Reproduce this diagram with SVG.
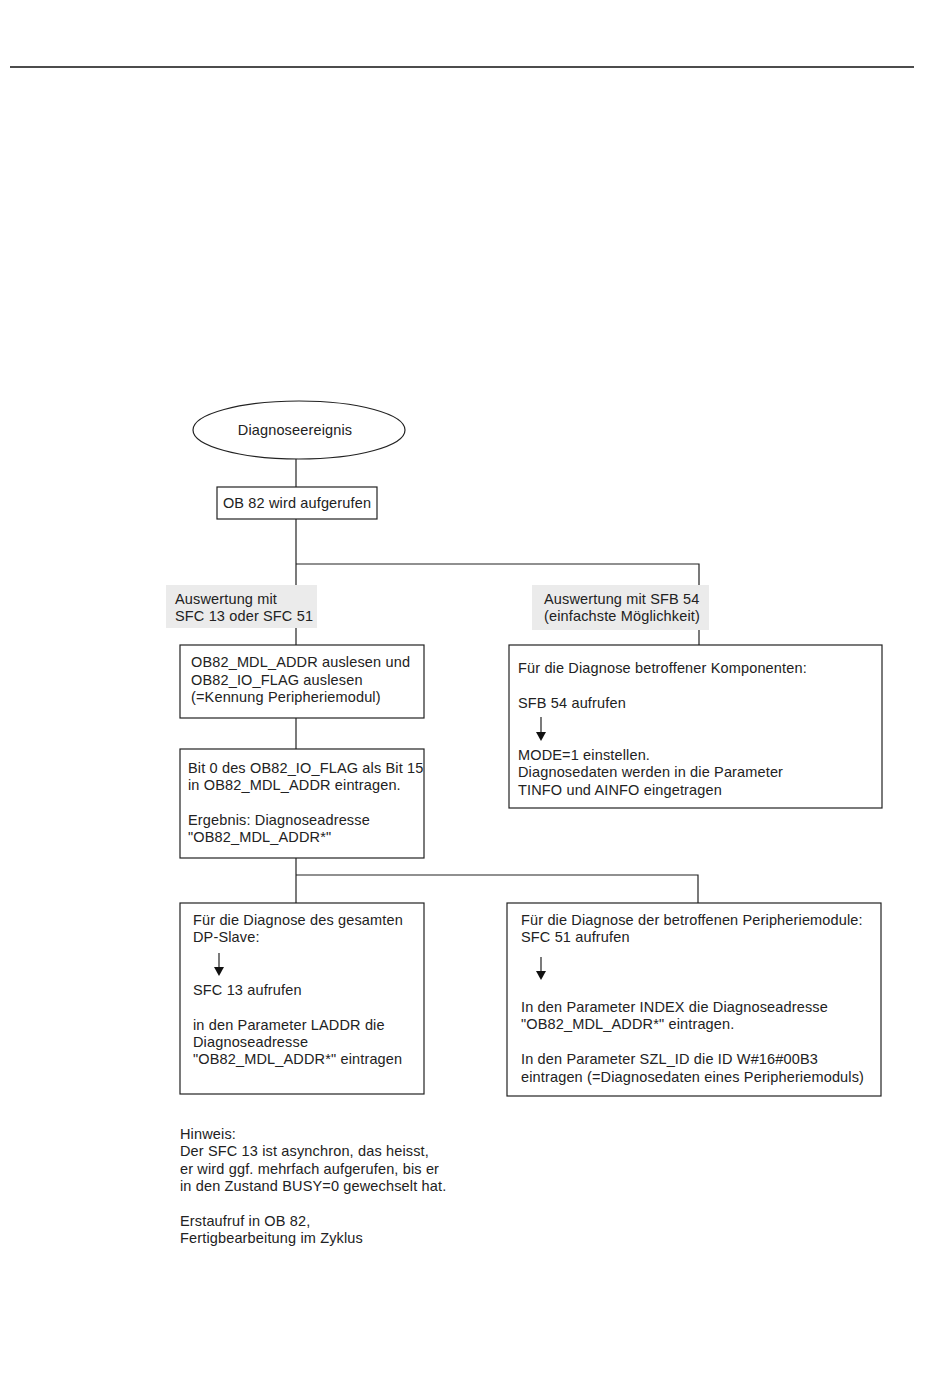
<svg xmlns="http://www.w3.org/2000/svg" width="950" height="1397" viewBox="0 0 950 1397">
<style>
text{font-family:"Liberation Sans",Arial,sans-serif;font-size:14.5px;letter-spacing:0.15px;fill:#222}
.box{fill:#fff;stroke:#222;stroke-width:1.2}
.lbl{fill:#ebebeb;stroke:none}
.ln{stroke:#222;stroke-width:1.2;fill:none}
.ah{fill:#111}
</style>
<line x1="10" y1="67" x2="914" y2="67" stroke="#111" stroke-width="1.5"/>
<g id="connectors">
<line class="ln" x1="296" y1="459" x2="296" y2="487"/>
<line class="ln" x1="296" y1="519" x2="296" y2="645"/>
<polyline class="ln" points="296,564 699,564 699,585"/>
<line class="ln" x1="699" y1="630" x2="699" y2="645"/>
<line class="ln" x1="296" y1="718" x2="296" y2="749"/>
<line class="ln" x1="296" y1="858" x2="296" y2="903"/>
<polyline class="ln" points="296,875 698,875 698,903"/>
</g>
<g id="start">
<ellipse cx="299" cy="430" rx="106" ry="29" class="box"/>
<text x="295" y="435" text-anchor="middle">Diagnoseereignis</text>
</g>
<g id="ob82">
<rect x="217" y="487" width="160" height="32" class="box"/>
<text x="297" y="508" text-anchor="middle">OB 82 wird aufgerufen</text>
</g>
<g id="label-sfc">
<rect x="166" y="585" width="151" height="43" class="lbl"/>
<text x="175" y="604">Auswertung mit</text>
<text x="175" y="621">SFC 13 oder SFC 51</text>
</g>
<g id="label-sfb">
<rect x="532" y="585" width="177" height="45" class="lbl"/>
<text x="544" y="604">Auswertung mit SFB 54</text>
<text x="544" y="621">(einfachste Möglichkeit)</text>
</g>
<g id="read">
<rect x="180" y="645" width="244" height="73" class="box"/>
<text x="191" y="667">OB82_MDL_ADDR auslesen und</text>
<text x="191" y="685">OB82_IO_FLAG auslesen</text>
<text x="191" y="702">(=Kennung Peripheriemodul)</text>
</g>
<g id="bit">
<rect x="180" y="749" width="244" height="109" class="box"/>
<text x="188" y="773">Bit 0 des OB82_IO_FLAG als Bit 15</text>
<text x="188" y="790">in OB82_MDL_ADDR eintragen.</text>
<text x="188" y="825">Ergebnis: Diagnoseadresse</text>
<text x="188" y="842">"OB82_MDL_ADDR*"</text>
</g>
<g id="sfb54">
<rect x="509" y="645" width="373" height="163" class="box"/>
<text x="518" y="673">Für die Diagnose betroffener Komponenten:</text>
<text x="518" y="708">SFB 54 aufrufen</text>
<line class="ln" x1="541" y1="717" x2="541" y2="733"/>
<path class="ah" d="M536,732 L546,732 L541,741 Z"/>
<text x="518" y="760">MODE=1 einstellen.</text>
<text x="518" y="777">Diagnosedaten werden in die Parameter</text>
<text x="518" y="795">TINFO und AINFO eingetragen</text>
</g>
<g id="sfc13">
<rect x="180" y="903" width="244" height="191" class="box"/>
<text x="193" y="925">Für die Diagnose des gesamten</text>
<text x="193" y="942">DP-Slave:</text>
<line class="ln" x1="219" y1="953" x2="219" y2="968"/>
<path class="ah" d="M214,967 L224,967 L219,976 Z"/>
<text x="193" y="995">SFC 13 aufrufen</text>
<text x="193" y="1030">in den Parameter LADDR die</text>
<text x="193" y="1047">Diagnoseadresse</text>
<text x="193" y="1064">"OB82_MDL_ADDR*" eintragen</text>
</g>
<g id="sfc51">
<rect x="507" y="903" width="374" height="193" class="box"/>
<text x="521" y="925">Für die Diagnose der betroffenen Peripheriemodule:</text>
<text x="521" y="942">SFC 51 aufrufen</text>
<line class="ln" x1="541" y1="957" x2="541" y2="972"/>
<path class="ah" d="M536,971 L546,971 L541,980 Z"/>
<text x="521" y="1012">In den Parameter INDEX die Diagnoseadresse</text>
<text x="521" y="1029">"OB82_MDL_ADDR*" eintragen.</text>
<text x="521" y="1064">In den Parameter SZL_ID die ID W#16#00B3</text>
<text x="521" y="1082">eintragen (=Diagnosedaten eines Peripheriemoduls)</text>
</g>
<g id="note">
<text x="180" y="1139">Hinweis:</text>
<text x="180" y="1156">Der SFC 13 ist asynchron, das heisst,</text>
<text x="180" y="1174">er wird ggf. mehrfach aufgerufen, bis er</text>
<text x="180" y="1191">in den Zustand BUSY=0 gewechselt hat.</text>
<text x="180" y="1226">Erstaufruf in OB 82,</text>
<text x="180" y="1243">Fertigbearbeitung im Zyklus</text>
</g>
</svg>
